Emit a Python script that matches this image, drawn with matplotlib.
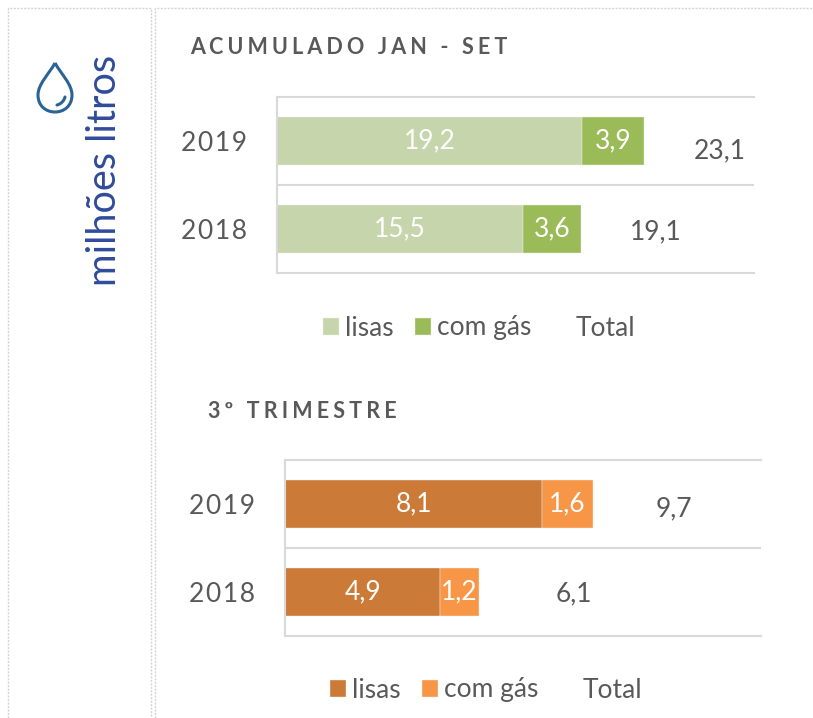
import matplotlib
matplotlib.use("Agg")
import matplotlib.pyplot as plt
from matplotlib.path import Path
from matplotlib.patches import PathPatch

plt.rcParams['font.family'] = ['Lato', 'DejaVu Sans']

# dados (milhoes de litros)
anos = ['2018', '2019']
acum_lisas = [15.5, 19.2]
acum_gas = [3.6, 3.9]
acum_total = [19.1, 23.1]
trim_lisas = [4.9, 8.1]
trim_gas = [1.2, 1.6]
trim_total = [6.1, 9.7]

W, H = 813, 718
CINZA = '#595959'
GRID = '#D9D9D9'
HAIR = '\u200a'


def com_espacos(txt, n=2):
    # espacamento entre letras, como no original
    return (HAIR * n).join(txt)


def grafico(fig, x0, x1, y0, y1, xmax, lisas, gas, total, gap_total, desc_total, cor1, cor2, leg_x, leg_y):
    ax = fig.add_axes([x0 / W, 1 - y1 / H, (x1 - x0) / W, (y1 - y0) / H])
    pos = [0, 1]
    ax.barh(pos, lisas, height=0.55, color=cor1, edgecolor='#EFEFE8', linewidth=0.3, label='lisas')
    ax.barh(pos, gas, left=lisas, height=0.55, color=cor2, edgecolor='#EFEFE8', linewidth=0.3, label='com gás')
    ax.barh(pos, [0, 0], left=total, height=0.55, color='none', label='Total')
    for i in pos:
        ax.text(lisas[i] / 2, i, f'{lisas[i]:.1f}'.replace('.', ','), color='white',
                ha='center', va='center', fontsize=19)
        ax.text(lisas[i] + gas[i] / 2, i, f'{gas[i]:.1f}'.replace('.', ','), color='white',
                ha='center', va='center', fontsize=19)
        ax.text(total[i] + gap_total[i], i - desc_total[i], f'{total[i]:.1f}'.replace('.', ','), color=CINZA,
                ha='center', va='center', fontsize=19)
    ax.set_xlim(0, xmax)
    ax.set_ylim(-0.5, 1.5)
    ax.set_yticks(pos)
    ax.set_yticklabels([com_espacos(a, 1) for a in anos], color=CINZA, fontsize=19)
    ax.set_xticks([])
    ax.tick_params(axis='y', length=0, pad=21.5)
    ax.axhline(0.5, color=GRID, linewidth=1.5)
    ax.spines['right'].set_visible(False)
    for s in ['top', 'bottom', 'left']:
        ax.spines[s].set_color(GRID)
        ax.spines[s].set_linewidth(1.5)
    ax.legend(loc='center left', bbox_to_anchor=(leg_x / W, 1 - leg_y / H),
              bbox_transform=fig.transFigure, ncol=3, frameon=False, fontsize=19,
              labelcolor=CINZA, handlelength=0.6, handleheight=0.6, handletextpad=0.23,
              columnspacing=0.83, borderpad=0, borderaxespad=0)
    return ax


fig = plt.figure(figsize=(W / 100, H / 100), dpi=100)

# camada de fundo em pixels: molduras, gota, titulos
bg = fig.add_axes([0, 0, 1, 1])
bg.set_xlim(0, W)
bg.set_ylim(H, 0)
bg.axis('off')
for xs, ys in [([8, 8, 151, 151], [718, 8, 8, 718]), ([155, 155, 813], [718, 8, 8])]:
    bg.plot(xs, ys, color='#D4D4D4', linewidth=1, linestyle=(0, (1.5, 1)))

gota = Path([(55, 63), (49, 74), (38, 84), (38, 95), (38, 106), (46, 112), (55, 112),
             (64, 112), (72, 106), (72, 95), (72, 84), (61, 74), (55, 63)],
            [Path.MOVETO] + [Path.CURVE4] * 12)
bg.add_patch(PathPatch(gota, facecolor='none', edgecolor='#2A6496', linewidth=2.2))
brilho = Path([(57, 105), (61, 104), (64, 101), (65, 97)], [Path.MOVETO] + [Path.CURVE4] * 3)
bg.add_patch(PathPatch(brilho, facecolor='none', edgecolor='#2A6496', linewidth=2.2, capstyle='round'))

bg.text(104, 170, 'milhões litros', rotation=90, color='#2F4B9B', fontsize=28.6, ha='center', va='center')
bg.text(190, 47, com_espacos('ACUMULADO JAN - SET', 3), color=CINZA, fontsize=15.5, fontweight='bold',
        ha='left', va='center')
bg.text(208, 412, com_espacos('3º TRIMESTRE', 3), color=CINZA, fontsize=15.5, fontweight='bold',
        ha='left', va='center')

grafico(fig, 277, 754, 97, 273, 30, acum_lisas, acum_gas, acum_total, [4.75, 4.75], [0.03, 0.11],
        '#C6D5AC', '#9BBB59', 323, 328)
grafico(fig, 285, 761, 460, 636, 15, trim_lisas, trim_gas, trim_total, [3.0, 2.55], [0.02, 0.05],
        '#CC7A37', '#F79646', 330, 690)

fig.savefig('out.png', dpi=100)
